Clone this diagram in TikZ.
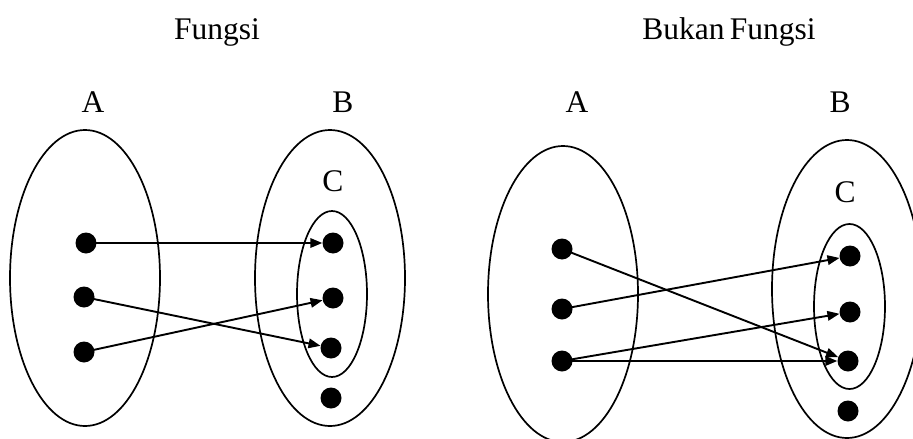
\documentclass[tikz,border=0pt]{standalone}
\usepackage{fontspec}
\setmainfont{Liberation Serif}
\usetikzlibrary{arrows.meta}
\tikzset{
  setell/.style={draw, line width=1.7pt},
  dot/.style={circle, fill=black, minimum size=21pt, inner sep=0pt},
  mapto/.style={line width=1.9pt, -{Triangle[length=12pt,width=9.5pt]}},
  lbl/.style={font=\fontsize{31.5}{31.5}\selectfont, inner sep=0pt, anchor=base},
}
\begin{document}
\begin{tikzpicture}[x=1pt,y=-1pt]
\useasboundingbox (0,0) rectangle (913,439);
% titles
\node[lbl] (t1) at (217,39) {Fungsi};
\node[lbl] (t2) at (729,39) {Bukan\,Fungsi};
% left diagram
\node[lbl] (lA) at (93,112) {A};
\node[lbl] (lB) at (343,112) {B};
\node[lbl] (lC) at (333,191) {C};
\draw[setell] (85,278) ellipse [x radius=75, y radius=148];
\draw[setell] (330,278) ellipse [x radius=75, y radius=148];
\draw[setell] (332,294) ellipse [x radius=35, y radius=83];
\node[dot] (la1) at (86,243) {};
\node[dot] (la2) at (84,297) {};
\node[dot] (la3) at (84,352) {};
\node[dot] (lb1) at (333,243) {};
\node[dot] (lb2) at (333,298) {};
\node[dot] (lb3) at (331,348) {};
\node[dot] (lb4) at (331,398) {};
\draw[mapto] (la1.center) -- (lb1);
\draw[mapto] (la2.center) -- (lb3);
\draw[mapto] (la3.center) -- (lb2);
% right diagram
\node[lbl] (rA) at (577,112) {A};
\node[lbl] (rB) at (840,112) {B};
\node[lbl] (rC) at (845,202) {C};
\draw[setell] (563,294) ellipse [x radius=75, y radius=148];
\draw[setell] (847,289) ellipse [x radius=75, y radius=149];
\draw[setell] (849.5,306.5) ellipse [x radius=35.5, y radius=82.5];
\node[dot] (ra1) at (562,249) {};
\node[dot] (ra2) at (562,309) {};
\node[dot] (ra3) at (562,361) {};
\node[dot] (rb1) at (850,256) {};
\node[dot] (rb2) at (850,312) {};
\node[dot] (rb3) at (848,361) {};
\node[dot] (rb4) at (848,411) {};
\draw[mapto] (ra1.center) -- (rb3);
\draw[mapto] (ra2.center) -- (rb1);
\draw[mapto] (ra3.center) -- (rb2);
\draw[mapto] (ra3.center) -- (rb3);
\end{tikzpicture}
\end{document}
